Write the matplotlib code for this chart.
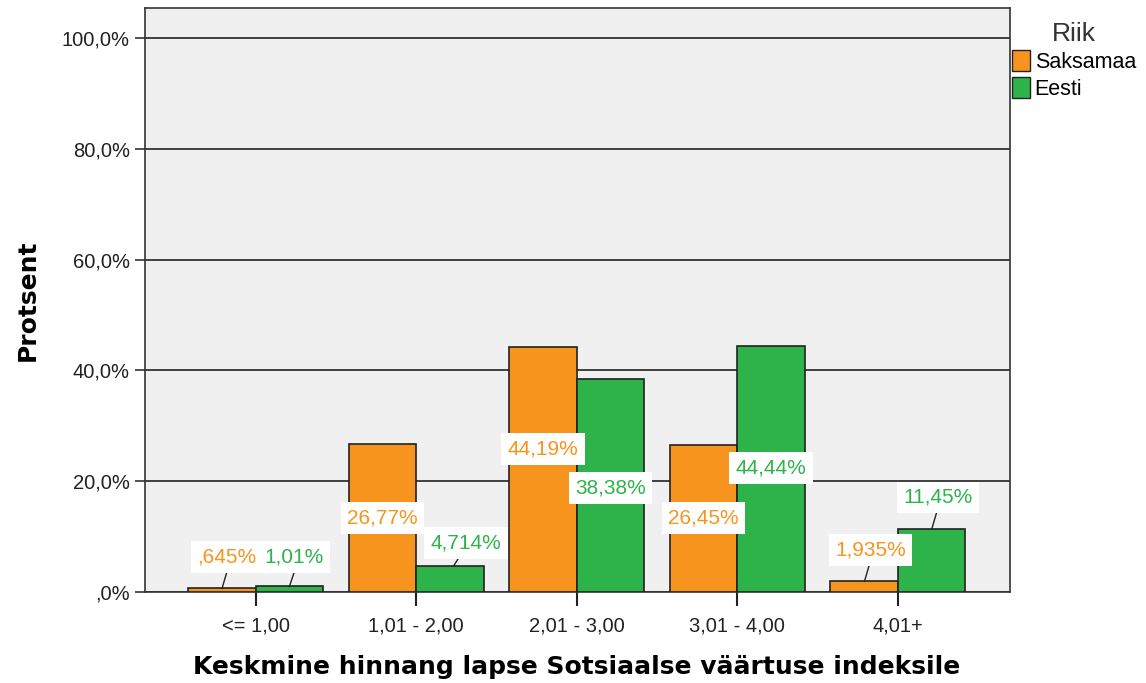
import numpy as np
import matplotlib.pyplot as plt
from matplotlib.patches import Patch

categories = ['<= 1,00', '1,01 - 2,00', '2,01 - 3,00', '3,01 - 4,00', '4,01+']
saksamaa = [0.645, 26.77, 44.19, 26.45, 1.935]
eesti = [1.01, 4.714, 38.38, 44.44, 11.45]
saksamaa_labels = [',645%', '26,77%', '44,19%', '26,45%', '1,935%']
eesti_labels = ['1,01%', '4,714%', '38,38%', '44,44%', '11,45%']
# label heights (in %) as placed in the chart
saksamaa_label_y = [6.3, 13.4, 25.8, 13.4, 7.6]
eesti_label_y = [6.3, 8.8, 18.8, 22.4, 17.1]
# horizontal nudge of labels (category units)
saksamaa_label_dx = [0.03, 0.0, 0.0, 0.0, 0.04]
eesti_label_dx = [0.03, 0.1, 0.0, 0.0, 0.04]

orange = '#F7941D'
green = '#2DB34A'

plt.rcParams['font.family'] = ['Liberation Sans', 'DejaVu Sans']

W, H = 1146, 683
fig = plt.figure(figsize=(W / 100, H / 100), dpi=100)
ax = fig.add_axes([145 / W, 1 - 592 / H, 865 / W, 584 / H])
ax.set_facecolor('#F0F0F0')

x = np.arange(len(categories))
w = 0.42
ax.bar(x - w / 2, saksamaa, w, color=orange, edgecolor='#222222', linewidth=1.2, zorder=3)
ax.bar(x + w / 2, eesti, w, color=green, edgecolor='#222222', linewidth=1.2, zorder=3)

ax.set_xlim(-0.69, 4.7)
ax.set_ylim(0, 105.4)
ax.set_yticks([0, 20, 40, 60, 80, 100])
ax.set_yticklabels([',0%', '20,0%', '40,0%', '60,0%', '80,0%', '100,0%'], fontsize=14.5, color='#222222')
ax.set_xticks(x)
ax.set_xticklabels(categories, fontsize=14.5, color='#222222')
ax.yaxis.grid(True, color='#222222', linewidth=1.2, zorder=1)
ax.tick_params(axis='y', length=7, width=1.2, color='#333333', pad=4)
ax.tick_params(axis='x', length=10, width=1.5, color='#222222', pad=8)
for s in ax.spines.values():
    s.set_color('#333333')
    s.set_linewidth(1.2)

def add_labels(xs, vals, texts, ys, dxs, color):
    for xi, v, t, yl, dx in zip(xs, vals, texts, ys, dxs):
        if yl > v:
            ax.plot([xi - 0.01 + dx / 3, xi + 0.02 + dx / 3], [v, yl - 2.7], color='#222222', lw=1, zorder=4)
        ax.text(xi + dx, yl, t, color=color, fontsize=15, ha='center', va='center',
                zorder=5, bbox=dict(boxstyle='square,pad=0.3', facecolor='white', edgecolor='none'))

add_labels(x - w / 2, saksamaa, saksamaa_labels, saksamaa_label_y, saksamaa_label_dx, orange)
add_labels(x + w / 2, eesti, eesti_labels, eesti_label_y, eesti_label_dx, green)

fig.text(28 / W, 1 - 300 / H, 'Protsent', rotation=90, ha='center', va='center',
         fontsize=18, fontweight='bold', family='DejaVu Sans')
fig.text(577 / W, 1 - 667 / H, 'Keskmine hinnang lapse Sotsiaalse väärtuse indeksile', ha='center',
         va='center', fontsize=18, fontweight='bold', family='DejaVu Sans')

handles = [Patch(facecolor=orange, edgecolor='#222222'), Patch(facecolor=green, edgecolor='#222222')]
leg = fig.legend(handles, ['Saksamaa', 'Eesti'], title='Riik', loc='upper left',
                 bbox_to_anchor=(1012 / W, 1 - 22 / H), frameon=False, fontsize=15.5,
                 title_fontsize=19, handlelength=0.85, handleheight=1.1, handletextpad=0.2,
                 labelspacing=0.2, borderaxespad=0, borderpad=0)
leg.get_title().set_color('#333333')

fig.savefig('out.png', dpi=100)
